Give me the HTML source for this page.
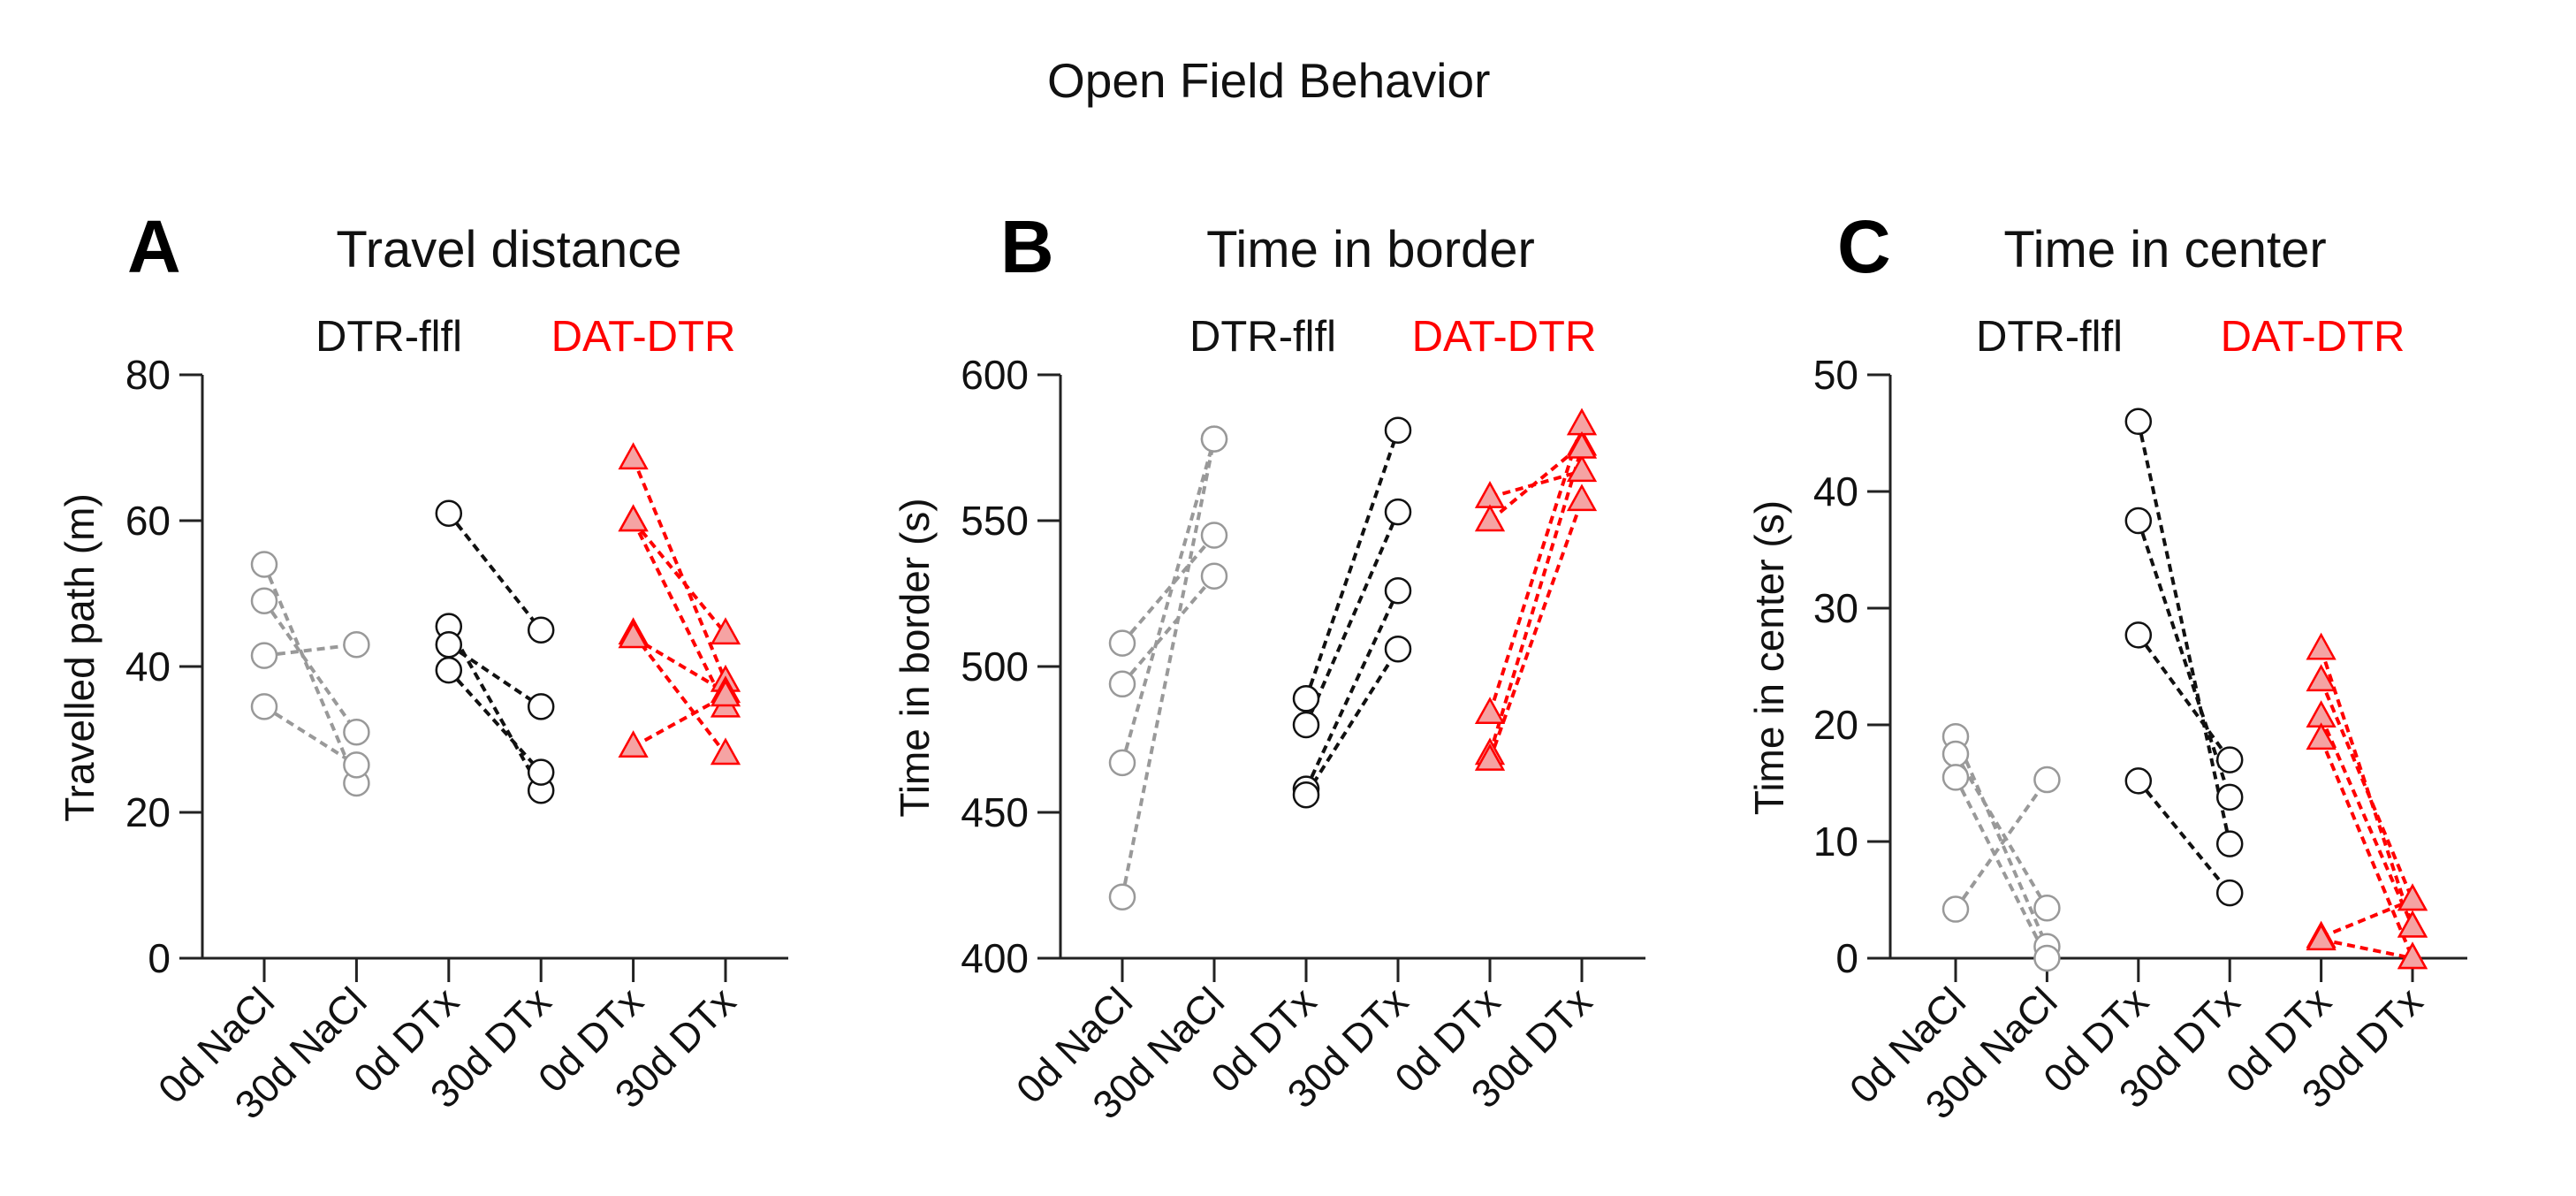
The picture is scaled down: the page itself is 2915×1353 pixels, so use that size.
<!DOCTYPE html>
<html><head><meta charset="utf-8"><style>
html,body{margin:0;padding:0;background:#fff;}
svg{display:block;font-family:"Liberation Sans",Arial,sans-serif;}
</style></head><body>
<svg id="fig" width="2915" height="1353" viewBox="0 0 2915 1353">
<text x="1185" y="110" font-size="55" fill="#111">Open Field Behavior</text>
</svg>
<script>
const categories = ["0d NaCl","30d NaCl","0d DTx","30d DTx","0d DTx","30d DTx"];
// Panel A: travelled path (m) pairs [day0, day30]
const aNaCl = [[54,24],[49,31],[41.5,43],[34.5,26.5]];
const aFlfl = [[61,45],[45.5,23],[43,34.5],[39.5,25.5]];
const aDat  = [[68.5,38],[60,44.5],[60,34.5],[44.5,28],[44,36.5],[29,36]];
const aTicks = [0,20,40,60,80];
// Panel B: time in border (s)
const bNaCl = [[508,545],[494,531],[467,578],[421,578]];
const bFlfl = [[489,581],[480,553],[458,526],[456,506]];
const bDat  = [[558,567],[550,576],[484,583],[470,575],[468,557]];
const bTicks = [400,450,500,550,600];
// Panel C: time in center (s)
const cNaCl = [[19,1],[17.5,4.3],[15.5,0],[4.2,15.3]];
const cFlfl = [[46,9.8],[37.5,13.8],[27.7,17],[15.2,5.6]];
const cDat  = [[26.5,2.7],[23.8,5],[20.7,2.7],[18.8,0],[1.8,5],[1.6,0]];
const cTicks = [0,10,20,30,40,50];

const NS="http://www.w3.org/2000/svg";
const svg=document.getElementById('fig');
function mk(tag,attrs,parent){const e=document.createElementNS(NS,tag);for(const k in attrs)e.setAttribute(k,attrs[k]);(parent||svg).appendChild(e);return e;}

const panels=[
 {id:'a',letter:'A',lx:144,ax:229,xEnd:892,cx0:299,dx:104.4,min:0,max:80,ticks:aTicks,title:'Travel distance',tcx:576,fcx:440,dcx:728,ytitle:'Travelled path (m)',ytx:90,groups:[aNaCl,aFlfl,aDat]},
 {id:'b',letter:'B',lx:1132,ax:1200,xEnd:1862,cx0:1270,dx:104,min:400,max:600,ticks:bTicks,title:'Time in border',tcx:1551,fcx:1429,dcx:1702,ytitle:'Time in border (s)',ytx:1035,groups:[bNaCl,bFlfl,bDat]},
 {id:'c',letter:'C',lx:2079,ax:2139,xEnd:2792,cx0:2213,dx:103.4,min:0,max:50,ticks:cTicks,title:'Time in center',tcx:2450,fcx:2319,dcx:2617,ytitle:'Time in center (s)',ytx:2002,groups:[cNaCl,cFlfl,cDat]}
];
const yTop=424, yBot=1084;
const styles=[{stroke:'#999',fill:'#fff',shape:'c'},{stroke:'#111',fill:'#fff',shape:'c'},{stroke:'#f00',fill:'#f5a3a3',shape:'t'}];

panels.forEach(p=>{
  const g=mk('g',{});
  
  
  const yS=v=>yBot-(v-p.min)/(p.max-p.min)*(yBot-yTop);
  const xS=i=>p.cx0+i*p.dx;
  let t=mk('text',{x:p.lx,y:308,'font-size':84,'font-weight':'bold',fill:'#000'},g);t.textContent=p.letter;
  
  t=mk('text',{x:p.tcx,y:302,'font-size':58,'text-anchor':'middle',fill:'#111'},g);t.textContent=p.title;
  
  t=mk('text',{x:p.fcx,y:397,'font-size':49,'text-anchor':'middle',fill:'#111'},g);t.textContent='DTR-flfl';
  
  t=mk('text',{x:p.dcx,y:397,'font-size':49,'text-anchor':'middle',fill:'#f00'},g);t.textContent='DAT-DTR';
  
  t=mk('text',{x:p.ytx,y:744,'font-size':46,'text-anchor':'middle',fill:'#111',transform:`rotate(-90 ${p.ytx} 744)`,dy:16},g);t.textContent=p.ytitle;
  
  let l=mk('line',{x1:p.ax,y1:yTop,x2:p.ax,y2:yBot,stroke:'#222','stroke-width':3},g);
  
  l=mk('line',{x1:p.ax-26,y1:yBot,x2:p.xEnd,y2:yBot,stroke:'#222','stroke-width':3},g);
  
  p.ticks.forEach(v=>{
    const y=yS(v);
    const tk=mk('line',{x1:p.ax-26,y1:y,x2:p.ax,y2:y,stroke:'#222','stroke-width':3},g);
    
    const tl=mk('text',{x:p.ax-36,y:y+16,'font-size':46,'text-anchor':'end',fill:'#111'},g);tl.textContent=v;
    
  });
  categories.forEach((c,i)=>{
    const x=xS(i);
    const tk=mk('line',{x1:x,y1:yBot,x2:x,y2:yBot+27,stroke:'#222','stroke-width':3},g);
    
    const tl=mk('text',{x:x+14,y:yBot+52,'font-size':45,'text-anchor':'end',fill:'#111',transform:`rotate(-45 ${x+14} ${yBot+52})`},g);tl.textContent=c;
    
  });
  p.groups.forEach((grp,gi)=>{
    const st=styles[gi];const x0=xS(gi*2),x1=xS(gi*2+1);
    grp.forEach(pr=>{
      const ln=mk('line',{x1:x0,y1:yS(pr[0]),x2:x1,y2:yS(pr[1]),stroke:st.stroke,'stroke-width':4,'stroke-dasharray':'9,6'},g);
      
    });
    grp.forEach(pr=>{
      [[x0,pr[0]],[x1,pr[1]]].forEach(([x,v])=>{
        const y=yS(v);let m;
        if(st.shape==='c') m=mk('circle',{cx:x,cy:y,r:14,fill:st.fill,stroke:st.stroke,'stroke-width':2.5},g);
        else m=mk('polygon',{points:`${x},${y-16} ${x-15},${y+11} ${x+15},${y+11}`,fill:st.fill,stroke:st.stroke,'stroke-width':2.5},g);
        
      });
    });
  });
});
</script>
</body></html>
